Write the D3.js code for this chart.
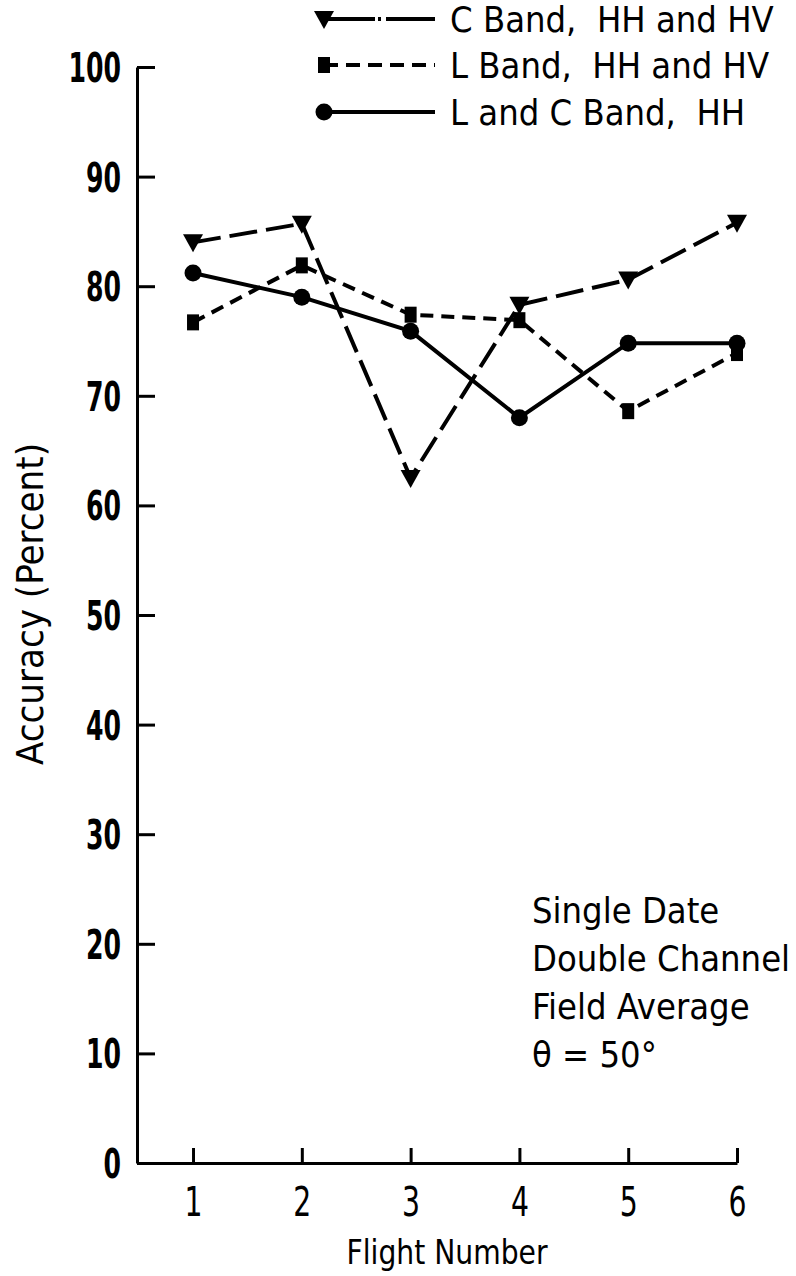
<!DOCTYPE html>
<html>
<head>
<meta charset="utf-8">
<script src="https://cdn.jsdelivr.net/npm/d3@7"></script>
<style>
  body { margin: 0; background: #fff; }
  text { font-family: "DejaVu Sans", sans-serif; font-stretch: condensed; fill: #000; }
</style>
</head>
<body>
<div id="chart"></div>
<script>
// data
var flights = [1, 2, 3, 4, 5, 6];
var cBandHHHV = [84, 85.7, 62.5, 78.3, 80.6, 85.8];
var lBandHHHV = [76.7, 81.9, 77.4, 76.9, 68.6, 73.9];
var lcBandHH  = [81.2, 79.0, 75.9, 68.0, 74.8, 74.8];
var yTicks = [0, 10, 20, 30, 40, 50, 60, 70, 80, 90, 100];
var seriesNames = ["C Band,  HH and HV", "L Band,  HH and HV", "L and C Band,  HH"];
var noteLines = ["Single Date", "Double Channel", "Field Average", "\u03b8 = 50\u00b0"];

var width = 796, height = 1276;

var svg = d3.select("#chart")
  .append("svg")
    .attr("width", width)
    .attr("height", height);

// scales
var x = d3.scaleLinear()
  .domain([0.485, 6])
  .range([137, 737]);

var y = d3.scaleLinear()
  .domain([0, 100])
  .range([1163, 67]);

// y axis, ticks pointing inward
var yAxis = svg.append("g")
  .attr("transform", "translate(137,0)")
  .call(d3.axisLeft(y).tickValues(yTicks).tickSizeInner(-18).tickSizeOuter(0).tickPadding(16));
yAxis.selectAll("path, line").attr("stroke", "#000").attr("stroke-width", 3);
yAxis.selectAll("text")
  .style("font-size", "40px")
  .style("font-weight", "bold")
  .attr("dy", "0.36em")
  .attr("textLength", function(d) { return String(d).length * 17.5; })
  .attr("lengthAdjust", "spacingAndGlyphs");

// x axis, ticks pointing up
var xAxis = svg.append("g")
  .attr("transform", "translate(0,1163)")
  .call(d3.axisBottom(x).tickValues(flights).tickFormat(d3.format("d"))
    .tickSizeInner(-15).tickSizeOuter(0).tickPadding(25));
xAxis.selectAll("path, line").attr("stroke", "#000").attr("stroke-width", 3);
xAxis.selectAll("text")
  .style("font-size", "40px")
  .attr("dy", "0.71em")
  .attr("textLength", 18)
  .attr("lengthAdjust", "spacingAndGlyphs");

// axis titles
svg.append("text")
  .attr("transform", "translate(43,604) rotate(-90)")
  .attr("text-anchor", "middle")
  .style("font-size", "38px")
  .text("Accuracy (Percent)");

svg.append("text")
  .attr("x", 447)
  .attr("y", 1264)
  .attr("text-anchor", "middle")
  .style("font-size", "33px")
  .attr("textLength", 201)
  .attr("lengthAdjust", "spacingAndGlyphs")
  .text("Flight Number");

// series
var series = [
  {name: seriesNames[0], values: cBandHHHV, dash: "28,9", marker: "tri"},
  {name: seriesNames[1], values: lBandHHHV, dash: "13,8", marker: "sq"},
  {name: seriesNames[2], values: lcBandHH,  dash: null,   marker: "circ"}
];

var line = d3.line()
  .x(function(d, i) { return x(flights[i]); })
  .y(function(d) { return y(d); });

function drawMarker(g, type, cx, cy) {
  if (type == "tri") {
    g.append("path")
      .attr("d", "M" + (cx - 10) + "," + (cy - 8) + "L" + (cx + 10) + "," + (cy - 8) + "L" + cx + "," + (cy + 10) + "Z")
      .attr("fill", "#000");
  } else if (type == "sq") {
    g.append("rect")
      .attr("x", cx - 6).attr("y", cy - 8)
      .attr("width", 12).attr("height", 16)
      .attr("fill", "#000");
  } else {
    g.append("circle")
      .attr("cx", cx).attr("cy", cy).attr("r", 8.5)
      .attr("fill", "#000");
  }
}

series.forEach(function(s) {
  var g = svg.append("g");
  g.append("path")
    .datum(s.values)
    .attr("d", line)
    .attr("fill", "none")
    .attr("stroke", "#000")
    .attr("stroke-width", 4)
    .attr("stroke-dasharray", s.dash);
  s.values.forEach(function(v, i) {
    drawMarker(g, s.marker, x(flights[i]), y(v));
  });
});

// legend
var legendY = [19, 65, 112];
var legendDash = ["51,3,3,5,60", "14,8", null];
series.forEach(function(s, i) {
  var g = svg.append("g");
  var ly = legendY[i];
  g.append("line")
    .attr("x1", 324).attr("x2", 435)
    .attr("y1", ly).attr("y2", ly)
    .attr("stroke", "#000")
    .attr("stroke-width", 4)
    .attr("stroke-dasharray", legendDash[i]);
  drawMarker(g, s.marker, 324, ly);
  g.append("text")
    .attr("x", 450)
    .attr("y", ly)
    .attr("dy", "0.36em")
    .style("font-size", "36px")
    .attr("xml:space", "preserve")
    .text(s.name);
});

// note
svg.selectAll(".note")
  .data(noteLines)
  .enter()
  .append("text")
    .attr("class", "note")
    .attr("x", 532)
    .attr("y", function(d, i) { return 923 + i * 48; })
    .style("font-size", "36px")
    .text(function(d) { return d; });
</script>
</body>
</html>
